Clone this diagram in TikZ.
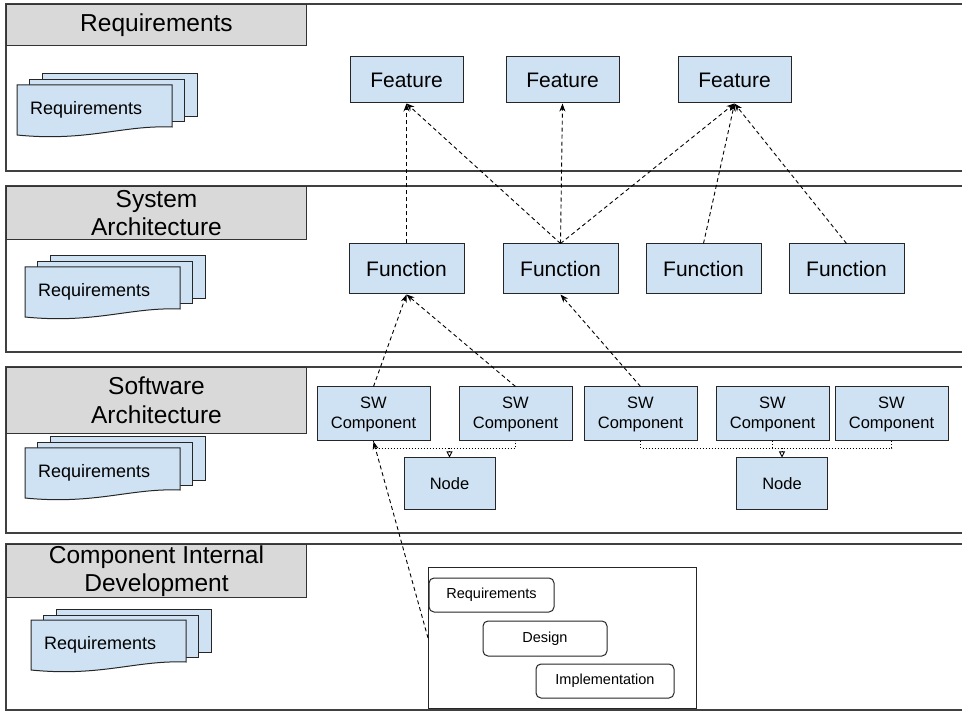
\documentclass[tikz,border=0pt]{standalone}
\usepackage{fontspec}
\setmainfont{Liberation Sans}
\usepackage{xcolor}
\usetikzlibrary{positioning,arrows.meta,calc}

\definecolor{boxblue}{HTML}{CFE2F3}
\definecolor{headgray}{HTML}{D9D9D9}

\begin{document}
\begin{tikzpicture}[x=1pt, y=1pt,
    layer/.style={draw=black!75, line width=1.6pt},
    header/.style={draw=black!80, fill=headgray, line width=1pt, inner sep=0pt, anchor=north west,
        minimum width=300pt, font=\fontsize{24.5}{28.5}\selectfont, align=center},
    box/.style={draw=black!85, fill=boxblue, line width=1pt, inner sep=0pt, align=center,
        font=\fontsize{21}{25}\selectfont},
    featbox/.style={box, minimum width=113pt, minimum height=46pt},
    funcbox/.style={box, minimum width=115pt, minimum height=50pt},
    swbox/.style={box, minimum width=113pt, minimum height=54pt, font=\fontsize{16.5}{20}\selectfont},
    nodebox/.style={box, minimum width=91pt, minimum height=51pt, font=\fontsize{16.5}{20}\selectfont},
    stepbox/.style={draw=black!85, fill=white, rounded corners=5pt, line width=1pt, inner sep=0pt,
        font=\fontsize{14.5}{17}\selectfont},
    arr/.style={-{Stealth[length=8pt, width=6pt]}, line width=0.9pt, dash pattern=on 4pt off 3pt},
    bus/.style={line width=0.9pt, dash pattern=on 1pt off 2pt},
    busarr/.style={bus, -{Triangle[open, length=6pt, width=6pt]}},
    sheet/.style={draw=black!85, fill=boxblue, line width=1pt},
    reqstack/.pic={
        \draw[sheet] (25,11) rectangle (180,-32);
        \draw[sheet] (12,5) rectangle (167,-37);
        \draw[sheet] (0,0) -- (155,0) -- (155,-42) .. controls (105,-40) and (70,-57) .. (0,-50) -- cycle;
        \node[anchor=west, inner sep=0pt, font=\fontsize{18}{21}\selectfont] (-txt) at (13,-25) {Requirements};
    },
]
\useasboundingbox (0,0) rectangle (962,-711);

% --- Layer frames ---
\draw[layer] (962,-4) -| (6,-171) -- (962,-171);
\draw[layer] (962,-186) -| (6,-352) -- (962,-352);
\draw[layer] (962,-367) -| (6,-533) -- (962,-533);
\draw[layer] (962,-544) -| (6,-710) -- (962,-710);

% --- Layer headers ---
\node[header, minimum height=41pt] (head_req) at (6,-4) {Requirements};
\node[header, minimum height=53pt] (head_sys) at (6,-186) {System\\Architecture};
\node[header, minimum height=66pt] (head_sw) at (6,-367) {Software\\Architecture};
\node[header, minimum height=53pt] (head_cid) at (6,-544) {Component Internal\\Development};

% --- Requirement stacks ---
\pic (stack1) at (17,-85) {reqstack};
\pic (stack2) at (25,-267) {reqstack};
\pic (stack3) at (25,-448) {reqstack};
\pic (stack4) at (31,-620) {reqstack};

% --- Features ---
\node[featbox] (feat1) at (406.5,-80) {Feature};
\node[featbox, right=42pt of feat1] (feat2) {Feature};
\node[featbox, right=58pt of feat2] (feat3) {Feature};

% --- Functions ---
\node[funcbox] (func1) at (406.5,-269) {Function};
\node[funcbox, right=38pt of func1] (func2) {Function};
\node[funcbox, right=27pt of func2] (func3) {Function};
\node[funcbox, right=27pt of func3] (func4) {Function};

% --- SW components and nodes ---
\node[swbox] (sw1) at (373.5,-414) {SW\\Component};
\node[swbox, right=28pt of sw1] (sw2) {SW\\Component};
\node[swbox, right=11pt of sw2] (sw3) {SW\\Component};
\node[swbox, right=18pt of sw3] (sw4) {SW\\Component};
\node[swbox, right=5pt of sw4] (sw5) {SW\\Component};

\node[nodebox] (node1) at (449.5,-483.5) {Node};
\node[nodebox] (node2) at (782,-483.5) {Node};

% --- Component internal development ---
\node[draw=black!85, line width=1pt, minimum width=268pt, minimum height=141pt, inner sep=0pt,
      anchor=north west] (cid) at (428,-567) {};
\node[stepbox, minimum width=125pt, minimum height=34pt] (step_req) at (491.5,-595) {Requirements};
\node[stepbox, minimum width=124pt, minimum height=35pt] (step_design) at (545,-638.5) {Design};
\node[stepbox, minimum width=138pt, minimum height=34pt] (step_impl) at (605,-681) {Implementation};

% --- Traces ---
\draw[arr] (func1.north) -- (feat1.south);
\draw[arr] (func2.north) -- (feat1.south);
\draw[arr] (func2.north) -- (feat2.south);
\draw[arr] (func2.north) -- (feat3.south);
\draw[arr] (func3.north) -- (feat3.south);
\draw[arr] (func4.north) -- (feat3.south);
\draw[arr] (sw1.north) -- (func1.south);
\draw[arr] (sw2.north) -- (func1.south);
\draw[arr] (sw3.north) -- (func2.south);
\draw[arr] (cid.west) -- (sw1.south);

% --- Deployment to nodes ---
\coordinate (bus1) at ($(node1.north)+(0,9)$);
\draw[bus] (sw1.south) |- (bus1) -| (sw2.south);
\draw[busarr] (bus1) -- (node1.north);

\coordinate (bus2) at ($(node2.north)+(0,9)$);
\draw[bus] (sw3.south) |- (bus2) -| (sw5.south);
\draw[bus] (sw4.south) -- (sw4.south |- bus2);
\draw[busarr] (bus2) -- (node2.north);

\end{tikzpicture}
\end{document}
